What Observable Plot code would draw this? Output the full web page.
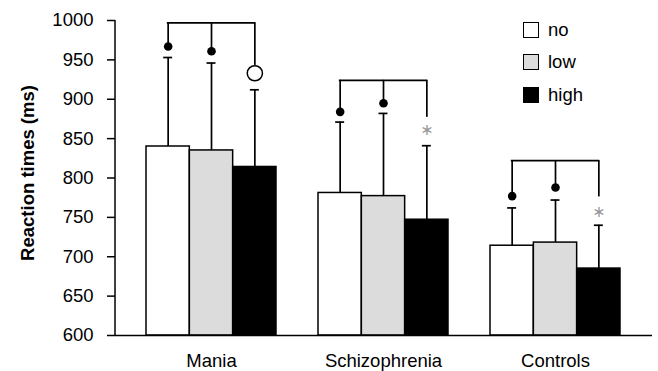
<!DOCTYPE html>
<html>
<head>
<meta charset="utf-8">
<script src="https://cdn.jsdelivr.net/npm/d3@7"></script>
<script src="https://cdn.jsdelivr.net/npm/@observablehq/plot@0.6"></script>
<style>
  html, body { margin: 0; padding: 0; background: #fff; }
  #wrap { position: relative; width: 658px; height: 371px; font-family: "Liberation Sans", Arial, sans-serif; }
  #legend { position: absolute; left: 523px; top: 21px; }
  .item { display: flex; align-items: center; height: 17px; margin-bottom: 15.5px; font-size: 18.5px; }
  .sw { width: 14px; height: 14px; border: 1.5px solid #000; margin-right: 9px; }
</style>
</head>
<body>
<div id="wrap"><div id="legend"></div></div>
<script>
// ---- data ----
const groups = ["Mania", "Schizophrenia", "Controls"];
const levels = ["no", "low", "high"];
const levelFills = ["#ffffff", "#dcdcdc", "#000000"];
const yTicks = [600, 650, 700, 750, 800, 850, 900, 950, 1000];
const yLabel = "Reaction times (ms)";

const meanNo   = [840, 781, 714];
const meanLow  = [835, 777, 718];
const meanHigh = [814, 747, 685];

const upperNo   = [953, 871, 762];
const upperLow  = [946, 882, 772];
const upperHigh = [912, 841, 740];

// significance brackets
const bracketTop = [997, 924, 822];
const markNo   = [967, 884, 777];   // filled dots
const markLow  = [961, 895, 788];   // filled dots
const markHigh = [933, 861, 757];   // open circle / grey asterisk
const markHighType = ["circle", "star", "star"];
const bracketHighEnd = [943, 877, 776];

// ---- layout ----
const W = 658, H = 371, ML = 115, MR = 6, MT = 20, MB = 36;
const PI = 0.244, PO = 0.183;
const step = (W - ML - MR) / (groups.length - PI + 2 * PO);
const bw = step * (1 - PI);
const sub = bw / levels.length;
const off = k => (k - 1) * sub;

const means = [meanNo, meanLow, meanHigh];
const uppers = [upperNo, upperLow, upperHigh];
const marks_ = [markNo, markLow, markHigh];
const rows = groups.flatMap((g, i) => levels.map((lv, k) => ({
  group: g, level: lv, k, mean: means[k][i], upper: uppers[k][i],
  mark: marks_[k][i], top: bracketTop[i],
  end: k === 2 ? bracketHighEnd[i] : marks_[k][i],
  type: k === 2 ? markHighType[i] : "dot"
})));
const byLevel = k => rows.filter(d => d.k === k);
const y0 = yTicks[0];

const marks = [];
levels.forEach((lv, k) => {
  marks.push(Plot.barY(byLevel(k), {
    x: "group", y1: () => y0, y2: "mean", fill: levelFills[k],
    stroke: "#000", strokeWidth: 1.5, insetLeft: k * sub, insetRight: (2 - k) * sub
  }));
});
levels.forEach((lv, k) => {
  marks.push(Plot.ruleX(byLevel(k), {x: "group", y1: "mean", y2: "upper", dx: off(k), stroke: "#000", strokeWidth: 1.7}));
  marks.push(Plot.tickY(byLevel(k), {x: "group", y: "upper", dx: off(k), stroke: "#000", strokeWidth: 1.7,
    insetLeft: (bw - 9) / 2, insetRight: (bw - 9) / 2}));
  marks.push(Plot.ruleX(byLevel(k), {x: "group", y1: "top", y2: "end", dx: off(k), stroke: "#000", strokeWidth: 1.7}));
});
// bracket horizontals
marks.push(Plot.tickY(byLevel(0), {x: "group", y: "top", stroke: "#000", strokeWidth: 1.7,
  insetLeft: sub / 2 - 0.85, insetRight: sub / 2 - 0.85}));
// markers
[0, 1].forEach(k => marks.push(Plot.dot(byLevel(k), {x: "group", y: "mark", dx: off(k), r: 4.3, fill: "#000"})));
marks.push(Plot.dot(byLevel(2).filter(d => d.type === "circle"), {x: "group", y: "mark", dx: off(2), r: 7.6,
  fill: "#fff", stroke: "#000", strokeWidth: 1.5}));
marks.push(Plot.text(byLevel(2).filter(d => d.type === "star"), {x: "group", y: "mark", dx: off(2), text: () => "∗",
  fill: "#999", fontSize: 16, fontFamily: "DejaVu Sans"}));
// axes
marks.push(Plot.ruleY([y0], {stroke: "#000", strokeWidth: 1.5}));
marks.push(Plot.ruleX([groups[0]], {x: d => d, y1: () => y0, y2: () => yTicks[yTicks.length - 1],
  dx: -(bw / 2 + PO * step), stroke: "#000", strokeWidth: 1.5}));
marks.push(Plot.axisY({ticks: yTicks, tickFormat: d => String(d), tickSize: 8, tickPadding: 14, strokeWidth: 1.5, label: null, fontSize: 18.5}));
marks.push(Plot.axisX({tickSize: 0, tickPadding: 18, label: null, fontSize: 18.5}));
marks.push(Plot.text([yLabel], {frameAnchor: "left", text: d => d, rotate: -90, textAnchor: "middle",
  lineAnchor: "top", dx: -95, dy: -5, fontWeight: "bold", fontSize: 18.5}));

const chart = Plot.plot({
  width: W, height: H, marginLeft: ML, marginRight: MR, marginTop: MT, marginBottom: MB,
  style: {fontFamily: "'Liberation Sans', Arial, sans-serif", fontSize: "18.5px", color: "#000", background: "#fff", overflow: "visible"},
  x: {domain: groups, paddingInner: PI, paddingOuter: PO, axis: null},
  y: {domain: [y0, yTicks[yTicks.length - 1]], axis: null},
  marks
});
document.getElementById("wrap").prepend(chart);

const legend = document.getElementById("legend");
levels.forEach((lv, k) => {
  const it = document.createElement("div");
  it.className = "item";
  it.innerHTML = `<div class="sw" style="background:${levelFills[k]}"></div><span>${lv}</span>`;
  legend.appendChild(it);
});
</script>
</body>
</html>
